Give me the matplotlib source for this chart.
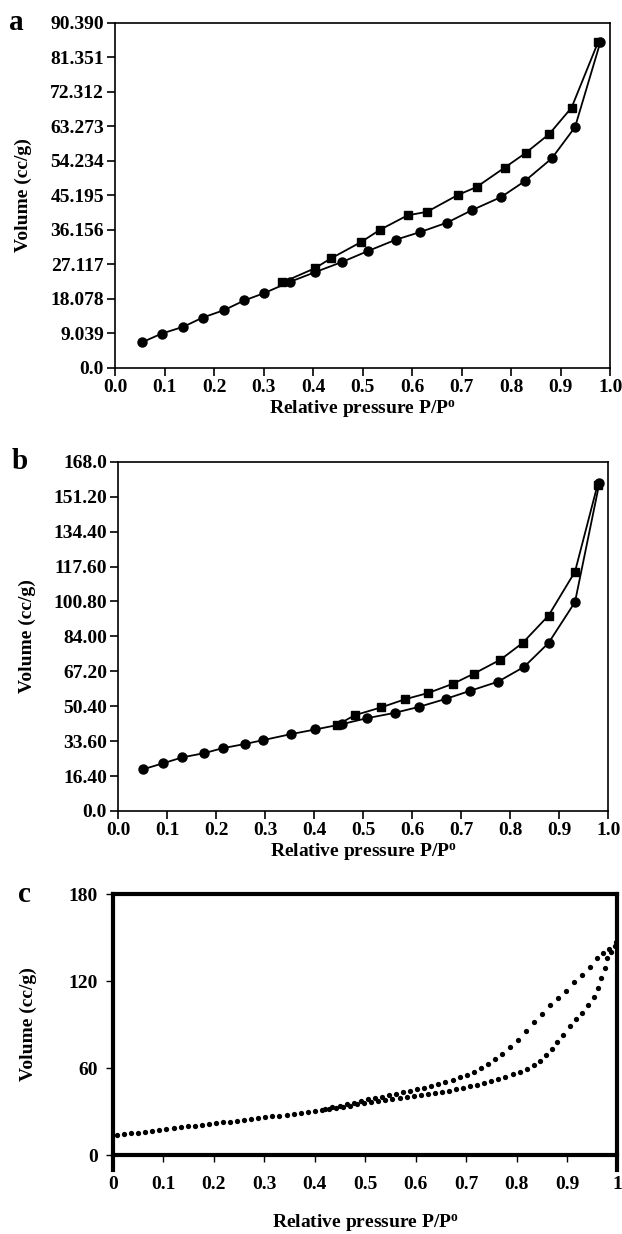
import matplotlib
matplotlib.use('Agg')
import matplotlib.pyplot as plt

plt.rcParams['font.family'] = ['Liberation Serif', 'DejaVu Serif']
plt.rcParams['font.weight'] = 'bold'
plt.rcParams['axes.labelweight'] = 'bold'
plt.rcParams['mathtext.fontset'] = 'custom'
plt.rcParams['mathtext.rm'] = 'Liberation Serif:bold'
plt.rcParams['mathtext.default'] = 'rm'

XLABEL = 'Relative pressure P/P$^{\\mathrm{o}}$'
YLABEL = 'Volume (cc/g)'

# panel a: adsorption (circles) and desorption (squares)
a_ads_x = [0.054, 0.094, 0.138, 0.177, 0.221, 0.261, 0.301, 0.354, 0.404, 0.459,
           0.510, 0.567, 0.616, 0.671, 0.720, 0.780, 0.827, 0.882, 0.929, 0.980]
a_ads_y = [6.7, 9.0, 10.8, 13.2, 15.2, 17.7, 19.6, 22.6, 25.1, 27.8,
           30.6, 33.6, 35.6, 38.1, 41.3, 44.8, 48.9, 54.9, 63.1, 85.3]
a_des_x = [0.976, 0.922, 0.877, 0.829, 0.787, 0.730, 0.692, 0.630, 0.591, 0.535,
           0.497, 0.436, 0.403, 0.338]
a_des_y = [85.5, 68.2, 61.3, 56.3, 52.5, 47.4, 45.3, 40.9, 40.0, 36.2,
           33.0, 28.7, 26.1, 22.4]
a_yticks = ['0.0', '9.039', '18.078', '27.117', '36.156', '45.195', '54.234',
            '63.273', '72.312', '81.351', '90.390']

# panel b
b_ads_x = [0.050, 0.091, 0.131, 0.175, 0.213, 0.258, 0.296, 0.353, 0.402, 0.457,
           0.507, 0.564, 0.614, 0.668, 0.718, 0.775, 0.828, 0.878, 0.932, 0.982]
b_ads_y = [20.0, 22.9, 25.8, 27.8, 30.2, 32.2, 34.1, 37.0, 39.2, 41.8,
           44.6, 47.2, 50.1, 53.9, 57.8, 62.2, 69.3, 80.8, 100.5, 158.0]
b_des_x = [0.978, 0.932, 0.878, 0.825, 0.780, 0.726, 0.684, 0.633, 0.586, 0.536,
           0.483, 0.446]
b_des_y = [156.9, 115.1, 94.0, 80.8, 72.8, 66.1, 61.3, 56.8, 53.8, 49.8,
           46.1, 41.3]
b_yticks = ['0.0', '16.40', '33.60', '50.40', '67.20', '84.00', '100.80',
            '117.60', '134.40', '151.20', '168.0']

# panel c (dotted isotherm)
c_ads_x = [0.008, 0.022, 0.036, 0.050, 0.064, 0.078, 0.092, 0.106, 0.120, 0.134,
           0.148, 0.162, 0.176, 0.190, 0.204, 0.218, 0.232, 0.246, 0.260, 0.274,
           0.288, 0.302, 0.316, 0.330, 0.344, 0.358, 0.372, 0.386, 0.400, 0.414,
           0.428, 0.442, 0.456, 0.470, 0.484, 0.498, 0.512, 0.526, 0.540, 0.554,
           0.568, 0.582, 0.596, 0.610, 0.624, 0.638, 0.652, 0.666, 0.680, 0.694,
           0.708, 0.722, 0.736, 0.750, 0.764, 0.778, 0.792, 0.806, 0.820, 0.834,
           0.846, 0.858, 0.870, 0.881, 0.893, 0.905, 0.917, 0.929, 0.941, 0.953,
           0.961, 0.968, 0.975, 0.980, 0.988, 0.996]
c_ads_y = [13.7, 14.3, 14.9, 15.5, 16.1, 16.7, 17.3, 17.9, 18.5, 19.1,
           19.7, 20.3, 20.9, 21.5, 22.0, 22.6, 23.1, 23.6, 24.2, 24.8,
           25.4, 26.0, 26.6, 27.2, 27.8, 28.4, 29.0, 29.6, 30.2, 30.9,
           31.7, 32.5, 33.3, 34.1, 34.9, 35.7, 36.4, 37.1, 37.8, 38.5,
           39.2, 39.9, 40.6, 41.3, 42.0, 42.8, 43.6, 44.5, 45.4, 46.4,
           47.4, 48.5, 49.7, 51.0, 52.4, 54.0, 55.7, 57.5, 59.5, 62.0,
           65.0, 69.0, 73.0, 78.0, 83.0, 89.0, 93.5, 98.0, 103.5, 109.0,
           115.0, 122.0, 129.0, 136.0, 140.0, 144.5]
c_des_x = [0.998, 0.984, 0.972, 0.960, 0.945, 0.929, 0.913, 0.897, 0.882, 0.866,
           0.850, 0.834, 0.818, 0.802, 0.786, 0.771, 0.757, 0.743, 0.729, 0.715,
           0.701, 0.687, 0.673, 0.659, 0.645, 0.631, 0.617, 0.603, 0.589, 0.575,
           0.561, 0.547, 0.533, 0.519, 0.505, 0.491, 0.477, 0.463, 0.449, 0.435,
           0.421]
c_des_y = [147.0, 142.2, 139.0, 135.6, 130.0, 124.4, 119.0, 113.3, 108.5, 103.3,
           97.5, 91.5, 85.5, 79.5, 74.5, 70.0, 66.5, 63.0, 60.0, 57.5,
           55.5, 53.6, 51.9, 50.3, 48.9, 47.6, 46.4, 45.3, 44.3, 43.3,
           42.3, 41.3, 40.3, 39.3, 38.3, 37.3, 36.2, 35.1, 34.0, 32.9,
           31.8]
c_yticks = [0, 60, 120, 180]
c_xticks = ['0', '0.1', '0.2', '0.3', '0.4', '0.5', '0.6', '0.7', '0.8', '0.9', '1']

x_ticks = [0.0, 0.1, 0.2, 0.3, 0.4, 0.5, 0.6, 0.7, 0.8, 0.9, 1.0]

fig = plt.figure(figsize=(6.22, 12.34), dpi=100)


def line_panel(rect, ads_x, ads_y, des_x, des_y, ymax, ylabels, letter):
    ax = fig.add_axes(rect)
    ax.plot(ads_x, ads_y, '-o', color='black', lw=1.3, ms=6.5, zorder=3)
    ax.plot(des_x, des_y, '-s', color='black', lw=1.3, ms=6.0, zorder=3)
    ax.set_xlim(0, 1.0)
    ax.set_ylim(0, ymax)
    ax.set_xticks(x_ticks)
    ax.set_xticklabels(['%.1f' % t for t in x_ticks])
    ax.set_yticks([ymax * i / 10 for i in range(11)])
    ax.set_yticklabels(ylabels)
    ax.tick_params(direction='out', length=6, width=1.2, labelsize=14, pad=2)
    for sp in ax.spines.values():
        sp.set_linewidth(1.2)
    ax.set_xlabel(XLABEL, fontsize=14, labelpad=2)
    ax.set_ylabel(YLABEL, fontsize=14)
    ax.yaxis.set_label_coords(-0.168, 0.5)
    ax.text(-0.2, 1.0, letter, transform=ax.transAxes, fontsize=21,
            fontweight='bold', ha='center', va='center')
    return ax


line_panel([0.185, 0.7018, 0.796, 0.2796], a_ads_x, a_ads_y, a_des_x, a_des_y,
           90.39, a_yticks, 'a')
line_panel([0.19, 0.3428, 0.788, 0.283], b_ads_x, b_ads_y, b_des_x, b_des_y,
           168.0, b_yticks, 'b')

# panel c
ax = fig.add_axes([0.1817, 0.064, 0.811, 0.2115])
ax.plot(c_ads_x, c_ads_y, 'o', color='black', ms=3.8, mew=0)
ax.plot(c_des_x, c_des_y, 'o', color='black', ms=3.8, mew=0)
ax.set_xlim(0, 1)
ax.set_ylim(0, 180)
ax.set_xticks(x_ticks)
ax.set_xticklabels(c_xticks)
ax.set_yticks(c_yticks)
ax.tick_params(direction='out', length=5, width=1, labelsize=14)
ax.tick_params(axis='x', pad=10)
ax.tick_params(axis='y', pad=6)
for sp in ax.spines.values():
    sp.set_linewidth(3)
ax.spines['left'].set_bounds(-10, 180)
ax.spines['right'].set_bounds(-10, 180)
ax.set_xlabel(XLABEL, fontsize=14, labelpad=14)
ax.set_ylabel(YLABEL, fontsize=14)
ax.yaxis.set_label_coords(-0.15, 0.5)
ax.text(-0.175, 1.0, 'c', transform=ax.transAxes, fontsize=21,
        fontweight='bold', ha='center', va='center')

fig.savefig('out.png', dpi=100)
